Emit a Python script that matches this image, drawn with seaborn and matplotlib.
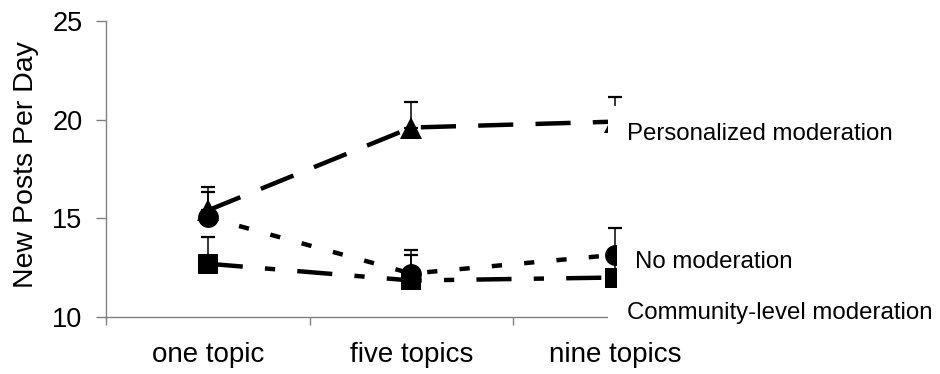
import numpy as np
import pandas as pd
import matplotlib
matplotlib.use('Agg')
import matplotlib.pyplot as plt
from matplotlib.patches import Rectangle
import seaborn as sns

# chart values
topics = ['one topic', 'five topics', 'nine topics']
conditions = ['Personalized moderation', 'No moderation', 'Community-level moderation']
personalized = [15.4, 19.6, 19.9]
no_moderation = [15.05, 12.2, 13.15]
community = [12.7, 11.85, 12.0]
personalized_err = [1.2, 1.3, 1.25]
no_moderation_err = [1.3, 1.2, 1.35]
community_err = [1.35, 1.3, 1.25]
yticks = [10, 15, 20, 25]

sns.set_theme(style='white')
plt.rcParams['font.family'] = ['Liberation Sans', 'DejaVu Sans']
plt.rcParams['text.color'] = 'black'
plt.rcParams['axes.labelcolor'] = 'black'

pos = list(range(len(topics)))
series = {
    'Personalized moderation': (personalized, personalized_err),
    'No moderation': (no_moderation, no_moderation_err),
    'Community-level moderation': (community, community_err),
}
rows = []
for name, (vals, errs) in series.items():
    for p, v, e in zip(pos, vals, errs):
        rows.append({'pos': p, 'posts': v, 'err': e, 'condition': name})
data = pd.DataFrame(rows)

fig = plt.figure(figsize=(9.4, 3.74), dpi=100)
ax = fig.add_axes([0.1128, 0.1524, 0.6495, 0.7915])

markers = {'Personalized moderation': '^', 'No moderation': 'o',
           'Community-level moderation': 's'}
dashes = {'Personalized moderation': (7.9, 5.0),
          'No moderation': (2.3, 5.0),
          'Community-level moderation': (7.9, 5.0, 2.3, 5.0)}

sns.lineplot(data=data, x='pos', y='posts', style='condition',
             style_order=conditions, markers=markers, dashes=dashes,
             color='black', lw=3.2, markersize=15, markeredgewidth=0,
             markeredgecolor='black', legend=False, errorbar=None,
             sort=False, ax=ax)

sizes = {'^': 15.5, 'o': 15, 's': 14.5}
for line in ax.lines:
    m = line.get_marker()
    if m in sizes:
        line.set_markersize(sizes[m])

# upper error bars only
for name in conditions:
    sub = data[data['condition'] == name]
    ax.errorbar(sub['pos'], sub['posts'],
                yerr=[np.zeros(len(sub)), sub['err']],
                fmt='none', ecolor='black', elinewidth=1.1,
                capsize=4.7, capthick=1.6, zorder=3)

ax.set_xlim(-0.5, 2.5)
ax.set_ylim(10, 25)
ax.set_yticks(yticks)
ax.set_xticks([-0.5, 0.5, 1.5, 2.5])
ax.set_xticklabels([])
ax.set_xticks(pos, minor=True)
ax.set_xticklabels(topics, minor=True)
ax.tick_params(axis='x', which='major', length=6, width=1, color='#808080',
               direction='out', bottom=True)
ax.tick_params(axis='x', which='minor', length=0, pad=18, labelsize=20,
               labelcolor='black', bottom=True)
ax.tick_params(axis='y', length=7, width=1, color='#808080', pad=10,
               labelsize=19.5, labelcolor='black', direction='out', left=True)
ax.set_xlabel('')
ax.set_ylabel('New Posts Per Day', fontsize=20.5, color='black')
ax.yaxis.set_label_coords(-0.11, 0.514)

for side in ['top', 'right']:
    ax.spines[side].set_visible(False)
for side in ['left', 'bottom']:
    ax.spines[side].set_color('#808080')
    ax.spines[side].set_linewidth(1)

# white label boxes sitting over the right edge of the plot
boxes = [(0.822, 0.564, 0.149), (0.837, 0.0845, 0.199), (0.822, -0.044, 0.125)]
for x0, y0, h in boxes:
    ax.add_patch(Rectangle((x0, y0), 0.5, h, transform=ax.transAxes,
                           facecolor='white', edgecolor='none',
                           clip_on=False, zorder=5))

ax.text(2.059, 18.97, 'Personalized moderation', fontsize=17.3,
        va='baseline', ha='left', zorder=6, clip_on=False)
ax.text(2.0995, 12.48, 'No moderation', fontsize=17.3,
        va='baseline', ha='left', zorder=6, clip_on=False)
ax.text(2.059, 9.9, 'Community-level moderation', fontsize=17.3,
        va='baseline', ha='left', zorder=6, clip_on=False)

fig.savefig('out.png', dpi=100)
